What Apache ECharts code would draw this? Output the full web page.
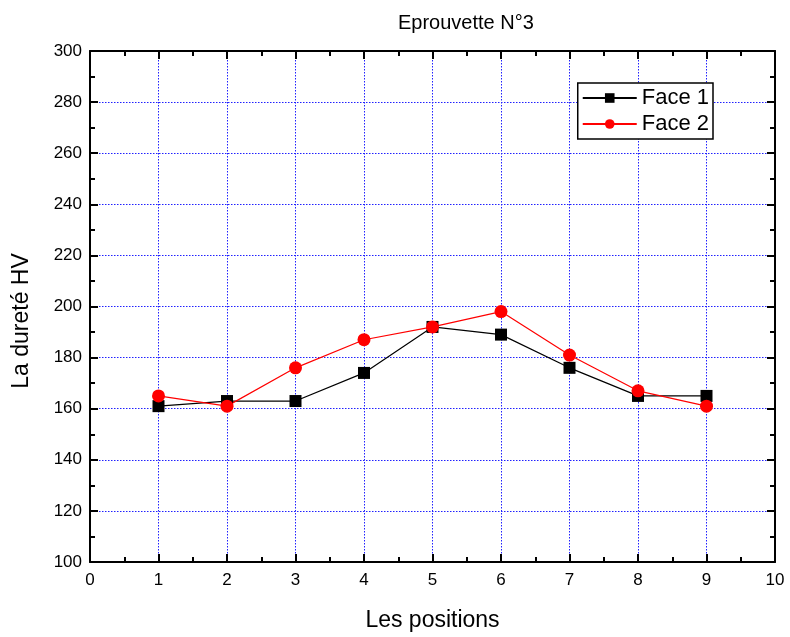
<!DOCTYPE html>
<html><head><meta charset="utf-8">
<script src="https://cdn.jsdelivr.net/npm/echarts@6/dist/echarts.min.js"></script>
<style>html,body{margin:0;padding:0;background:#fff}#c{width:790px;height:637px}</style>
</head><body><div id="c"></div>
<script>
const positions = [1,2,3,4,5,6,7,8,9];
const face1 = [161,163,163,174,192,189,176,165,165];
const face2 = [165,161,176,187,192,198,181,167,161];
const xTicks = [0,1,2,3,4,5,6,7,8,9,10];
const yTicks = [100,120,140,160,180,200,220,240,260,280,300];

const chart = echarts.init(document.getElementById('c'));
const F = 'Liberation Sans, Arial, sans-serif';
const axisBase = {
  axisLine:{show:true,onZero:false,lineStyle:{color:'#000',width:2}},
  axisTick:{show:true,inside:true,length:8,lineStyle:{color:'#000',width:2}},
  minorTick:{show:true,splitNumber:2,length:5,lineStyle:{color:'#000',width:2}}
};
const gridLine = {show:true,lineStyle:{color:'#2020ff',type:[1.5,1.5],width:1}};
chart.setOption({
  animation:false,
  title:{text:'Eprouvette N°3',left:393,top:8,textStyle:{fontFamily:F,fontSize:20,fontWeight:'normal',color:'#000'}},
  grid:{left:90,right:15,top:51,bottom:74},
  graphic:[{type:'text',x:22,y:321,rotation:Math.PI/2,
    style:{text:'La dureté HV',fontFamily:F,fontSize:23,fill:'#000',align:'center',verticalAlign:'middle'}}],
  legend:{
    right:77,top:83,orient:'vertical',itemGap:4,itemWidth:54,itemHeight:12,
    padding:[4,4,4,4],borderColor:'#000',borderWidth:1.5,backgroundColor:'#fff',
    textStyle:{fontFamily:F,fontSize:22,color:'#000'},
    data:['Face 1','Face 2']
  },
  xAxis:[
    Object.assign({type:'value',min:0,max:10,interval:1,position:'bottom',
      axisLabel:{fontFamily:F,fontSize:17,color:'#000',margin:10,formatter:v=>xTicks.includes(v)?String(v):''},
      splitLine:gridLine,
      name:'Les positions',nameLocation:'middle',nameGap:47,
      nameTextStyle:{fontFamily:F,fontSize:23,color:'#000'}},axisBase),
    Object.assign({type:'value',min:0,max:10,interval:1,position:'top',
      axisLabel:{show:false},splitLine:{show:false}},axisBase)
  ],
  yAxis:[
    Object.assign({type:'value',min:100,max:300,interval:20,position:'left',
      axisLabel:{fontFamily:F,fontSize:17,color:'#000',margin:8,formatter:v=>yTicks.includes(v)?String(v):''},
      splitLine:gridLine},axisBase),
    Object.assign({type:'value',min:100,max:300,interval:20,position:'right',
      axisLabel:{show:false},splitLine:{show:false}},axisBase)
  ],
  series:[
    {name:'Face 1',type:'line',data:positions.map((p,i)=>[p,face1[i]]),
     symbol:'rect',symbolSize:12,lineStyle:{color:'#000',width:1.2},itemStyle:{color:'#000'}},
    {name:'Face 2',type:'line',data:positions.map((p,i)=>[p,face2[i]]),
     symbol:'circle',symbolSize:13,lineStyle:{color:'#ff0000',width:1.2},itemStyle:{color:'#ff0000'}}
  ]
});
</script></body></html>
